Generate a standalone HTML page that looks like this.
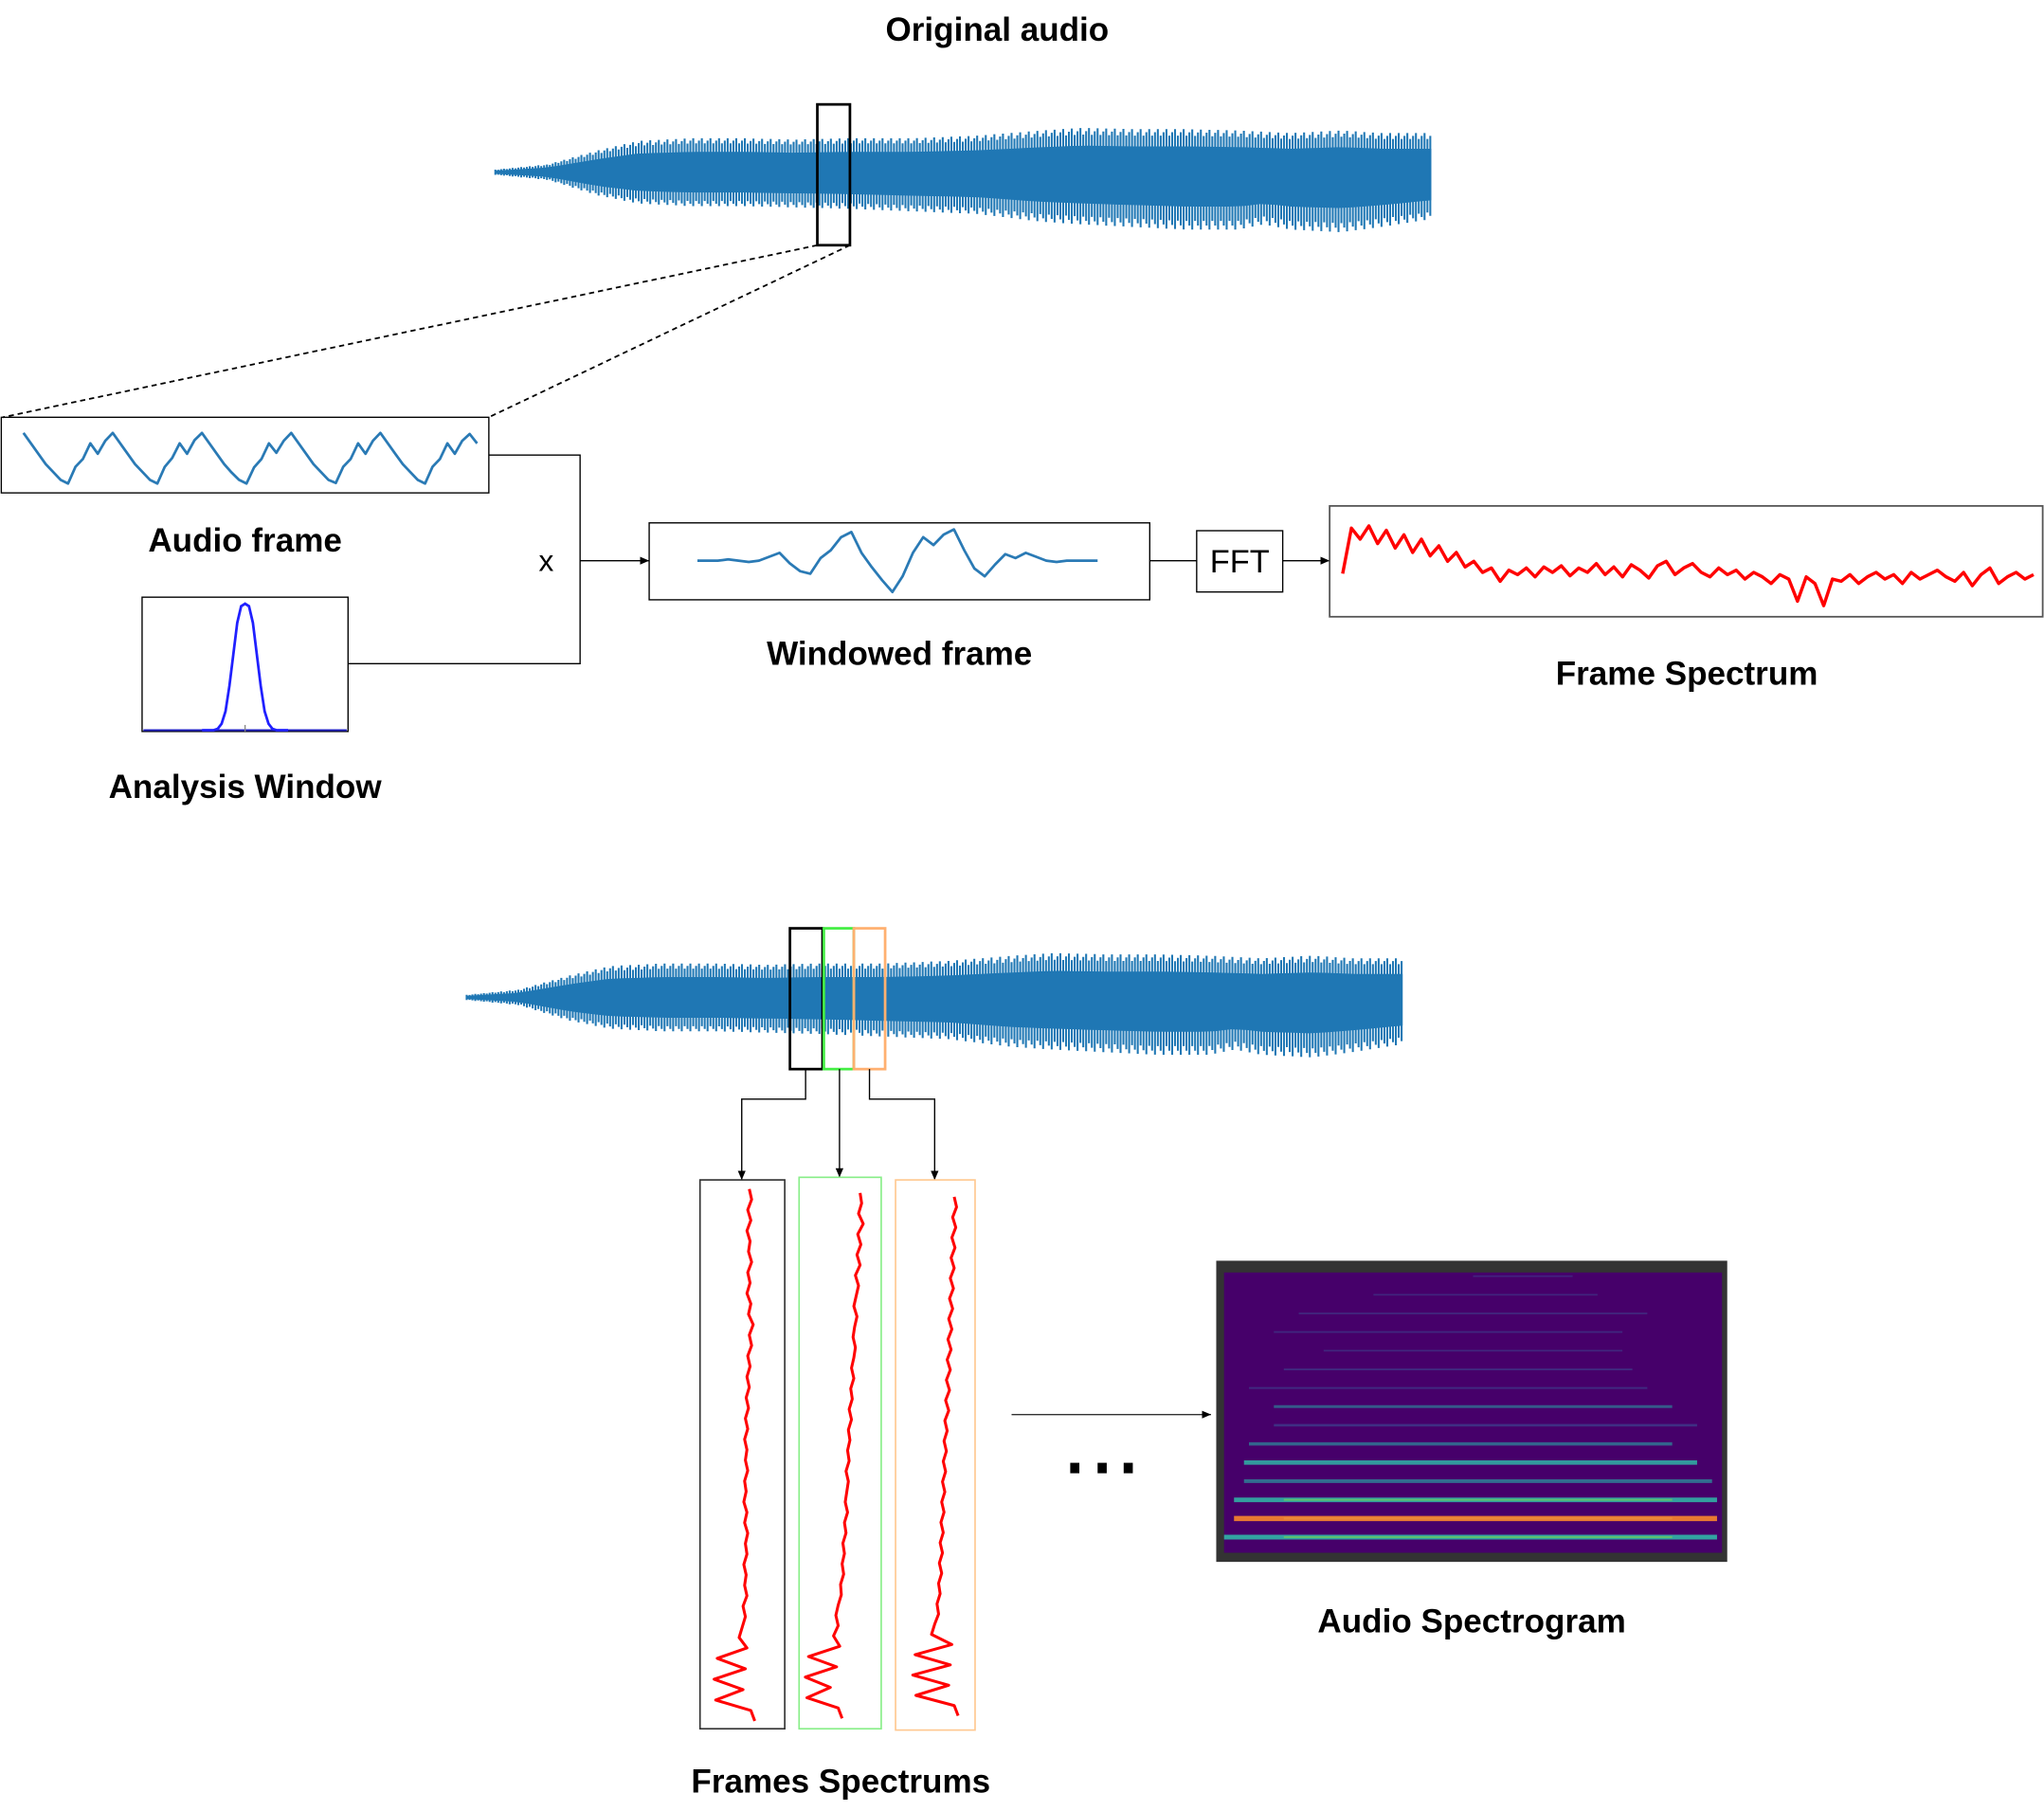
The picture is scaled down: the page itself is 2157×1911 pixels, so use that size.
<!DOCTYPE html>
<html><head><meta charset="utf-8"><style>
html,body{margin:0;padding:0;background:#fff}
svg{display:block}
text{font-family:"Liberation Sans",sans-serif}
</style></head><body>
<svg id="fig" xmlns="http://www.w3.org/2000/svg" width="2157" height="1911" viewBox="0 0 1568 1389">
<defs>
<marker id="arr" markerWidth="8" markerHeight="8" refX="7" refY="4" orient="auto" markerUnits="userSpaceOnUse"><path d="M0,1 L7,4 L0,7 z" fill="#000"/></marker>
</defs>
<text x="765" y="31" font-size="25.5" font-weight="bold" text-anchor="middle">Original audio</text>
<g id="wave1"></g>
<rect x="627" y="80" width="25" height="108" fill="none" stroke="#000" stroke-width="2"/>
<line x1="627" y1="188" x2="2" y2="320" stroke="#000" stroke-width="1.3" stroke-dasharray="4,3"/>
<line x1="652" y1="188" x2="375" y2="320" stroke="#000" stroke-width="1.3" stroke-dasharray="4,3"/>
<rect x="1" y="320" width="374" height="58" fill="none" stroke="#000" stroke-width="1"/>
<path id="audioframe" fill="none" stroke="#2a7ab5" stroke-width="2" stroke-linejoin="round"/>
<text x="188" y="423" font-size="25.5" font-weight="bold" text-anchor="middle">Audio frame</text>
<rect x="109" y="458" width="158" height="103" fill="none" stroke="#000" stroke-width="1"/>
<line x1="110" y1="560" x2="266" y2="560" stroke="#2020c0" stroke-width="1.5"/>
<line x1="188" y1="556" x2="188" y2="561" stroke="#888" stroke-width="1"/>
<path id="window" fill="none" stroke="#2020ff" stroke-width="2"/>
<text x="188" y="612" font-size="25.5" font-weight="bold" text-anchor="middle">Analysis Window</text>
<polyline points="375,349 445,349 445,509 267,509" fill="none" stroke="#000" stroke-width="1"/>
<line x1="445" y1="430" x2="498" y2="430" stroke="#000" stroke-width="1" marker-end="url(#arr)"/>
<text x="419" y="438" font-size="23" text-anchor="middle">x</text>
<rect x="498" y="401" width="384" height="59" fill="none" stroke="#000" stroke-width="1"/>
<path id="windowed" fill="none" stroke="#2a7ab5" stroke-width="2" stroke-linejoin="round"/>
<text x="690" y="510" font-size="25.5" font-weight="bold" text-anchor="middle">Windowed frame</text>
<line x1="882" y1="430" x2="918" y2="430" stroke="#000" stroke-width="1"/>
<rect x="918" y="407" width="66" height="47" fill="none" stroke="#000" stroke-width="1"/>
<text x="951" y="439" font-size="25" text-anchor="middle">FFT</text>
<line x1="984" y1="430" x2="1020" y2="430" stroke="#000" stroke-width="1" marker-end="url(#arr)"/>
<rect x="1020" y="388" width="547" height="85" fill="none" stroke="#555" stroke-width="1.3"/>
<path id="spectrum" fill="none" stroke="#ff0000" stroke-width="2.5" stroke-linejoin="round"/>
<text x="1294" y="525" font-size="25.5" font-weight="bold" text-anchor="middle">Frame Spectrum</text>

<g id="wave2"></g>
<rect x="606" y="712" width="25" height="108" fill="none" stroke="#000" stroke-width="2"/>
<rect x="632" y="712" width="23" height="108" fill="none" stroke="#44ee44" stroke-width="2"/>
<rect x="655" y="712" width="24" height="108" fill="none" stroke="#ffb070" stroke-width="2"/>
<polyline points="618,820 618,843 569,843 569,905" fill="none" stroke="#000" stroke-width="1" marker-end="url(#arr)"/>
<line x1="644" y1="820" x2="644" y2="903" stroke="#000" stroke-width="1" marker-end="url(#arr)"/>
<polyline points="667,820 667,843 717,843 717,905" fill="none" stroke="#000" stroke-width="1" marker-end="url(#arr)"/>
<rect x="537" y="905" width="65" height="421" fill="none" stroke="#333" stroke-width="1.2"/>
<rect x="613" y="903" width="63" height="423" fill="none" stroke="#88ee88" stroke-width="1.2"/>
<rect x="687" y="905" width="61" height="422" fill="none" stroke="#ffc890" stroke-width="1.2"/>
<path id="vs1" fill="none" stroke="#ff0000" stroke-width="2.2" stroke-linejoin="round"/>
<path id="vs2" fill="none" stroke="#ff0000" stroke-width="2.2" stroke-linejoin="round"/>
<path id="vs3" fill="none" stroke="#ff0000" stroke-width="2.2" stroke-linejoin="round"/>
<text x="645" y="1375" font-size="25.5" font-weight="bold" text-anchor="middle">Frames Spectrums</text>
<line x1="776" y1="1085" x2="929" y2="1085" stroke="#333" stroke-width="1" marker-end="url(#arr)"/>
<g>
<rect x="821" y="1122" width="7" height="8" fill="#000"/><rect x="842" y="1122" width="7" height="8" fill="#000"/><rect x="862" y="1122" width="7" height="8" fill="#000"/>
</g>
<rect x="933" y="967" width="392" height="231" fill="#333"/>
<rect x="939" y="976" width="382" height="215" fill="#46006a"/>
<g id="sgram"></g>
<text x="1129" y="1252" font-size="25.5" font-weight="bold" text-anchor="middle">Audio Spectrogram</text>
</svg>
<script>
// waveform envelope (sample positions as fraction of duration, amplitude above / below)
const envT = [0,0.056,0.111,0.153,0.209,0.265,0.32,0.376,0.446,0.515,0.585,0.627,0.682,0.738,0.794,0.822,0.85,0.905,0.947,1];
const envUp = [2,6,17,24,26,26,25,26,26,28,32,34,33,33,32,31,30,32,30,30];
const envDown = [2,6,18,24,26,26,27,28,30,32,38,40,42,44,44,40,44,46,42,36];
// audio frame samples
const frameVals = [10,8,6,4,2.5,1,0.3,3.5,5,8,6,8.5,10, 8,6,4,2.5,1,0.3,3.5,5.2,8,6,8.6,10, 8,6,4,2.4,1,0.3,3.4,5,8,6.2,8.5,10, 8,6,4,2.5,1,0.4,3.5,5,8,6,8.5,10, 8,6,4,2.5,1,0.3,3.5,5,8,6,8.5,9.8,8];
// analysis window
const winVals = [0,0,0,0,0.01,0.05,0.15,0.35,0.6,0.85,0.98,1,0.98,0.85,0.6,0.35,0.15,0.05,0.01,0,0,0,0];
// windowed frame
const winFrame = [0,0,0,1,0,-1,0,3,6,-2,-8,-10,2,8,18,22,6,-5,-15,-24,-12,6,18,12,20,24,8,-6,-12,-3,5,2,6,3,0,-1,0,0,0,0];
// frame spectrum magnitudes
const specVals = [39,80,70,82,66,78,62,74,58,70,55,64,50,58,45,50,40,44,32,42,38,44,36,45,40,46,37,44,40,48,38,45,36,47,42,35,46,50,38,44,48,40,36,44,38,42,34,40,36,30,38,34,14,36,30,10,34,32,38,30,36,40,34,38,30,40,34,38,42,36,32,40,28,38,44,30,36,40,34,38];
// frames spectrums (top to bottom)
const fs1 = [63,66,61,65,60,64,62,66,61,64,60,65,62,68,63,66,61,64,60,63,59,62,58,61,57,60,58,61,57,59,56,60,57,61,58,60,56,59,57,60,55,58,54,50,60,22,58,18,55,20,65,70];
const fs2 = [78,80,76,82,75,79,74,78,72,76,73,70,74,71,69,72,70,67,70,66,68,64,67,63,65,62,64,60,63,61,59,62,58,60,56,58,55,57,53,54,50,47,50,44,52,12,48,8,40,10,50,55];
const fs3 = [75,78,73,77,72,76,71,75,70,74,69,73,68,72,67,71,66,70,65,69,64,68,63,66,62,65,61,64,60,63,59,62,58,61,57,60,56,59,55,57,53,55,50,46,72,25,70,22,68,26,75,80];
// spectrogram bands: intensity 0..1, start/end fraction (top row first)
const bandInt = [0.08,0.08,0.1,0.12,0.1,0.15,0.18,0.4,0.3,0.5,0.8,0.6,0.85,1.0,0.9];
const bandStart = [0.5,0.3,0.15,0.1,0.2,0.12,0.05,0.1,0.1,0.05,0.04,0.04,0.02,0.02,0.0];
const bandEnd = [0.7,0.75,0.85,0.8,0.8,0.82,0.85,0.9,0.95,0.9,0.95,0.98,0.99,0.99,0.99];

const NS='http://www.w3.org/2000/svg';
function lerp(arr,t){for(let i=1;i<envT.length;i++){if(t<=envT[i]){const f=(t-envT[i-1])/(envT[i]-envT[i-1]);return arr[i-1]+f*(arr[i]-arr[i-1]);}}return arr[arr.length-1];}
function drawWave(g,x0,x1,cy){
  let d='';const n=Math.floor((x1-x0)/2.2);
  for(let i=0;i<=n;i++){const x=x0+i*2.2,t=i/n;const u=lerp(envUp,t),w=lerp(envDown,t);const k=(i%3===0)?1:(i%3===1?0.85:0.93);
    d+=`M${x.toFixed(1)},${(cy-u*k).toFixed(1)}V${(cy+w*k).toFixed(1)}`;}
  const p=document.createElementNS(NS,'path');
  
  
  p.setAttribute('d',d);p.setAttribute('stroke','#1f77b4');p.setAttribute('stroke-width','1.5');g.appendChild(p);
  let top='',bot='';
  for(let i=0;i<=60;i++){const t=i/60,x=x0+t*(x1-x0);top+=(i?'L':'M')+x.toFixed(1)+','+(cy-lerp(envUp,t)*0.6).toFixed(1);bot='L'+x.toFixed(1)+','+(cy+lerp(envDown,t)*0.6).toFixed(1)+bot;}
  const f=document.createElementNS(NS,'path');
  
  
  f.setAttribute('d',top+bot+'Z');f.setAttribute('fill','#1f77b4');g.appendChild(f);
}
drawWave(document.getElementById('wave1'),380,1098,132);
drawWave(document.getElementById('wave2'),358,1076,765);
function line(xs,ys){return xs.map((x,i)=>(i?'L':'M')+x.toFixed(1)+','+ys[i].toFixed(1)).join('');}
(function(){const x0=18,x1=366;const xs=frameVals.map((v,i)=>x0+i*(x1-x0)/(frameVals.length-1));const ys=frameVals.map(v=>372-v*4);document.getElementById('audioframe').setAttribute('d',line(xs,ys));})();
(function(){const x0=155,x1=221;const xs=winVals.map((v,i)=>x0+i*(x1-x0)/(winVals.length-1));const ys=winVals.map(v=>560-v*97);document.getElementById('window').setAttribute('d',line(xs,ys));})();
(function(){const x0=535,x1=842;const xs=winFrame.map((v,i)=>x0+i*(x1-x0)/(winFrame.length-1));const ys=winFrame.map(v=>430-v);document.getElementById('windowed').setAttribute('d',line(xs,ys));})();
(function(){const x0=1030,x1=1560;const xs=specVals.map((v,i)=>x0+i*(x1-x0)/(specVals.length-1));const ys=specVals.map(v=>473-v*0.85);document.getElementById('spectrum').setAttribute('d',line(xs,ys));})();
function vspec(id,arr,left,y0,y1){const ys=arr.map((v,i)=>y0+i*(y1-y0)/(arr.length-1));const xs=arr.map(v=>left+v*0.6);document.getElementById(id).setAttribute('d',line(xs,ys));}
vspec('vs1',fs1,537,912,1320);
vspec('vs2',fs2,613,915,1318);
vspec('vs3',fs3,687,918,1316);
(function(){const g=document.getElementById('sgram');const x0=939,x1=1321,yb=1193;
 const rowH=14.3;
 function col(v){if(v>0.9)return '#f08030';if(v>0.6)return '#30b8a8';if(v>0.35)return '#2a9aa0';return '#3a5a9a';}
 bandInt.forEach((v,i)=>{const y=yb-14-(bandInt.length-1-i)*rowH;
  const l=document.createElementNS(NS,'line');
  
  
  l.setAttribute('x1',x0+bandStart[i]*(x1-x0));l.setAttribute('x2',x0+bandEnd[i]*(x1-x0));l.setAttribute('y1',y);l.setAttribute('y2',y);
  l.setAttribute('stroke',col(v));l.setAttribute('stroke-width',1+v*3);l.setAttribute('opacity',0.35+v*0.6);g.appendChild(l);
  if(v>0.8){const c=document.createElementNS(NS,'line');
   
   
   c.setAttribute('x1',x0+0.12*(x1-x0));c.setAttribute('x2',x0+0.9*(x1-x0));c.setAttribute('y1',y);c.setAttribute('y2',y);c.setAttribute('stroke',v>0.95?'#e88a3a':'#5cc070');c.setAttribute('stroke-width','1.5');g.appendChild(c);}
 });})();
</script>
</body></html>
